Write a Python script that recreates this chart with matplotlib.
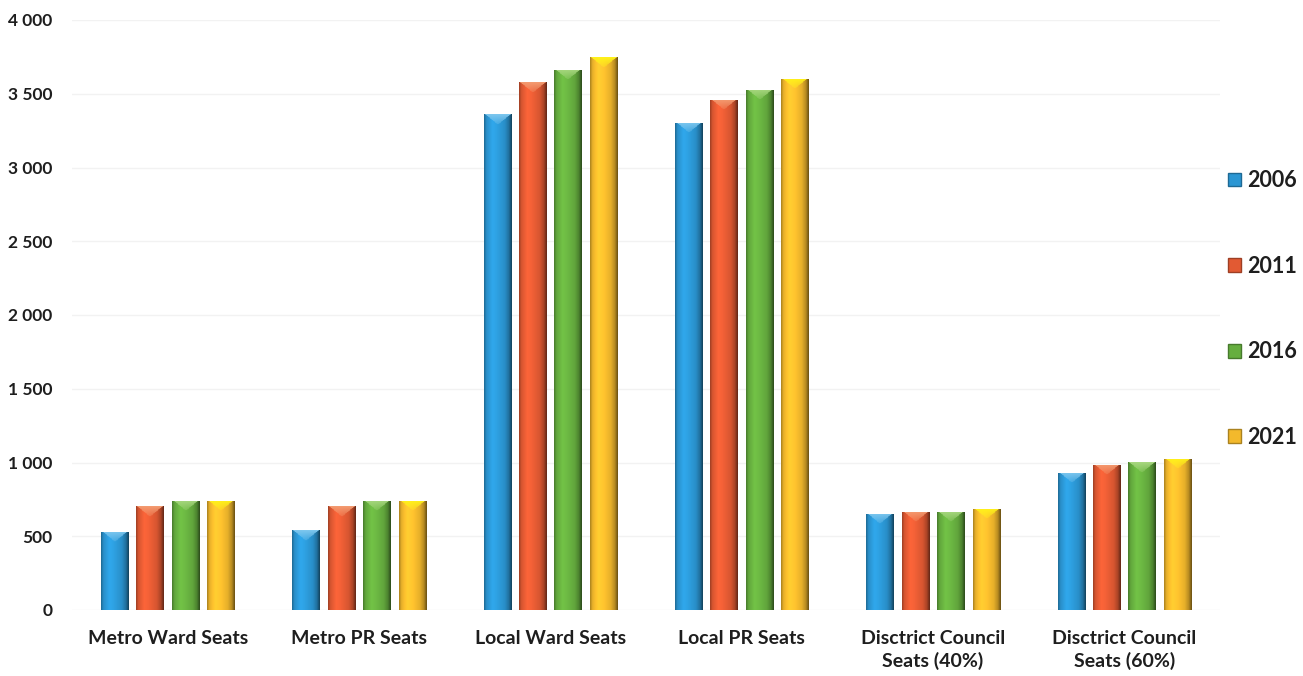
import numpy as np
import matplotlib
matplotlib.use("Agg")
import matplotlib.pyplot as plt
from matplotlib.patches import Patch
from matplotlib.ticker import FuncFormatter

categories = ["Metro Ward Seats", "Metro PR Seats", "Local Ward Seats",
              "Local PR Seats", "Disctrict Council\nSeats (40%)",
              "Disctrict Council\nSeats (60%)"]
years = ["2006", "2011", "2016", "2021"]
v2006 = [530, 540, 3362, 3302, 653, 932]
v2011 = [705, 705, 3578, 3460, 667, 985]
v2016 = [742, 742, 3662, 3528, 667, 1000]
v2021 = [742, 742, 3746, 3602, 687, 1027]
series = [v2006, v2011, v2016, v2021]
yticks = [0, 500, 1000, 1500, 2000, 2500, 3000, 3500, 4000]

colors = ["#2b96d3", "#e25a33", "#66ae3f", "#f3b92c"]
tops = ["#7cc6ee", "#f39a70", "#a6d67e", "#fff21a"]

plt.rcParams['font.family'] = ['Lato', 'DejaVu Sans']

W, H, DPI = 1303, 676, 100
fig = plt.figure(figsize=(W / DPI, H / DPI), dpi=DPI)
ax = fig.add_axes([72 / W, 1 - 610 / H, (1220 - 72) / W, (610 - 20) / H])
ax.set_xlim(-0.5, len(categories) - 0.5)
ax.set_ylim(0, 4000)

x = np.arange(len(categories))
slot = 0.185
bw = 0.142
px_per_unit_y = (610 - 20) / 4000.0
px_per_unit_x = (1220 - 72) / len(categories)


def rgb(c):
    return np.array(matplotlib.colors.to_rgb(c))


for i, (vals, col, topc) in enumerate(zip(series, colors, tops)):
    offs = (i - 1.5) * slot
    bars = ax.bar(x + offs, vals, width=bw, color=col, edgecolor="none",
                  zorder=2, label=years[i])
    base = rgb(col)
    light = rgb(topc)
    for b in bars:
        h = b.get_height()
        nx = 40
        ny = max(int(h * px_per_unit_y), 2)
        t = np.linspace(0, 1, nx)
        prof = np.interp(t, [0, 0.08, 0.3, 0.45, 0.75, 0.9, 1.0],
                         [0.72, 0.95, 1.12, 1.08, 0.95, 0.75, 0.45])
        img = np.clip(base[None, None, :] * prof[None, :, None], 0, 1)
        img = np.repeat(img, ny, axis=0)
        chev = int(min(10, ny))
        for r in range(chev):
            half = (chev - r) / chev * 0.5
            mask = np.abs(t - 0.5) < half * 0.9
            a = 0.75 * (1 - r / chev) + 0.25
            img[r, mask] = img[r, mask] * (1 - a) + light * a
        im = ax.imshow(img, extent=(b.get_x(), b.get_x() + b.get_width(), 0, h),
                       aspect="auto", origin="upper", zorder=3,
                       interpolation="bilinear")
        im.set_clip_path(b)

ax.set_yticks(yticks)
ax.yaxis.set_major_formatter(FuncFormatter(lambda v, p: f"{int(v):,}".replace(",", " ")))
ax.set_xticks(x)
ax.set_xticklabels(categories, fontsize=14, fontweight="bold", color="#1e1e1e",
                   linespacing=1.3)
for lab in ax.get_yticklabels():
    lab.set_fontsize(12.5)
    lab.set_fontweight("bold")
    lab.set_color("#1e1e1e")
ax.tick_params(axis="both", length=0)
ax.tick_params(axis="y", pad=14)
ax.tick_params(axis="x", pad=14.5)
for s in ax.spines.values():
    s.set_visible(False)
ax.grid(axis="y", color="#f2f2f2", lw=1, zorder=0)
ax.set_axisbelow(True)

handles = [Patch(facecolor=c, edgecolor=matplotlib.colors.to_hex(rgb(c) * 0.7))
           for c in colors]
leg = fig.legend(handles, years, loc="center left",
                 bbox_to_anchor=(1219 / W, 1 - 309 / H), frameon=False,
                 prop={"family": "Lato", "weight": "bold", "size": 15.5},
                 handlelength=0.6, handleheight=0.6, handletextpad=0.3,
                 labelspacing=3.0, borderaxespad=0)
for t in leg.get_texts():
    t.set_color("#1e1e1e")

fig.savefig("out.png", dpi=DPI, facecolor="white")
